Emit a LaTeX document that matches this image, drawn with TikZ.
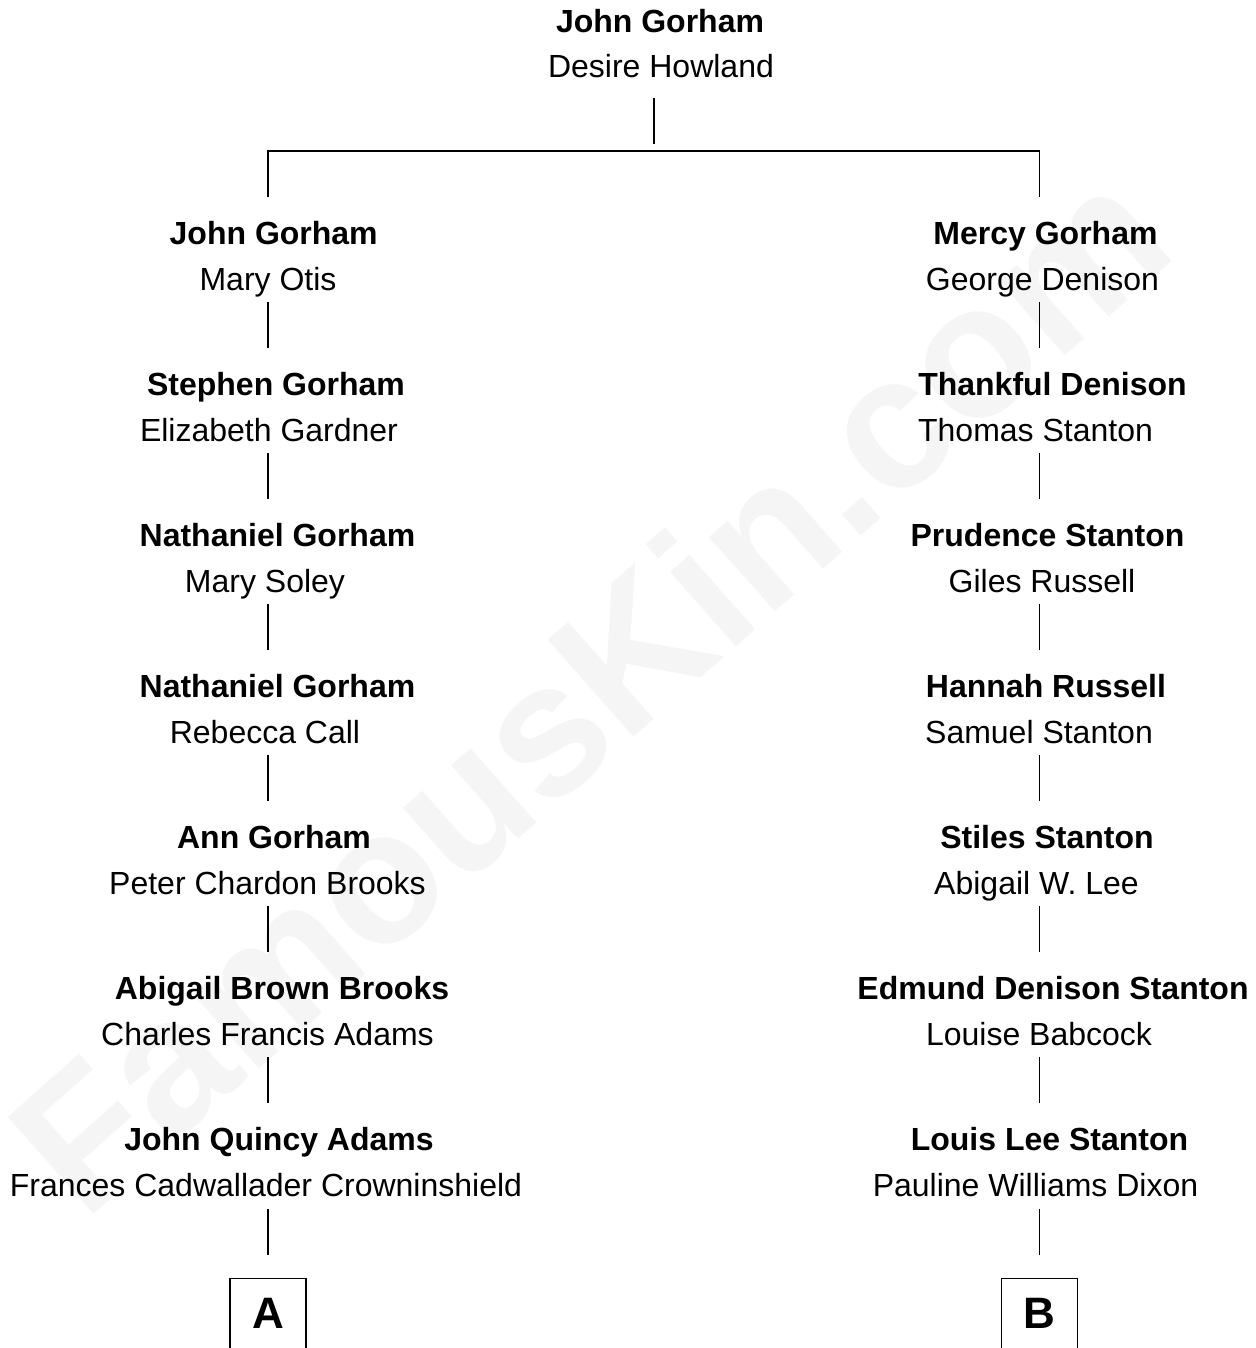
\documentclass[tikz,border=0pt]{standalone}
\usepackage{fontspec}
\setmainfont{Liberation Sans}
\usetikzlibrary{calc}
\begin{document}
\begin{tikzpicture}[x=1pt,y=-1pt,
  nm/.style={anchor=base, inner sep=0pt, font=\fontsize{32}{38}\selectfont\bfseries},
  sp/.style={anchor=base, inner sep=0pt, font=\fontsize{32}{38}\selectfont},
  link/.style={line width=1.3pt, draw=black},
  endbox/.style={draw, line width=1.3pt, minimum width=76pt, minimum height=140pt, anchor=north, inner sep=0pt},
  boxlabel/.style={anchor=base, inner sep=0pt, font=\fontsize{44}{44}\selectfont\bfseries},
  wmark/.style={inner sep=0pt, font=\fontsize{188}{188}\selectfont\bfseries, text=black!4}]
\useasboundingbox (0,0) rectangle (1255,1348);
\clip (0,0) rectangle (1255,1348);
\fill[white] (0,0) rectangle (1255,1348);
% watermark
\node[wmark, rotate=41.5] (wm) at (588,688) {FamousKin.com};
% columns
\coordinate (TC) at (654,0);
\coordinate (L) at (268,0);
\coordinate (R) at (1039.5,0);
% top couple
\node[nm] (t1) at (660,33) {John Gorham};
\node[sp] (t2) at (661,78) {Desire Howland};
% left line
\node[nm] (l0) at (273.7,244) {John Gorham};
\node[sp] (m0) at (268,290) {Mary Otis};
\node[nm] (l1) at (276,395) {Stephen Gorham};
\node[sp] (m1) at (269,441) {Elizabeth Gardner};
\node[nm] (l2) at (277.5,546) {Nathaniel Gorham};
\node[sp] (m2) at (265,592) {Mary Soley};
\node[nm] (l3) at (277.5,697) {Nathaniel Gorham};
\node[sp] (m3) at (265,743) {Rebecca Call};
\node[nm] (l4) at (274,848) {Ann Gorham};
\node[sp] (m4) at (267.5,894) {Peter Chardon Brooks};
\node[nm] (l5) at (282,999) {Abigail Brown Brooks};
\node[sp] (m5) at (267.5,1045) {Charles Francis Adams};
\node[nm] (l6) at (279,1150) {John Quincy Adams};
\node[sp] (m6) at (266,1196) {Frances Cadwallader Crowninshield};
% right line
\node[nm] (r0) at (1045.5,244) {Mercy Gorham};
\node[sp] (n0) at (1042.5,290) {George Denison};
\node[nm] (r1) at (1052.5,395) {Thankful Denison};
\node[sp] (n1) at (1035.5,441) {Thomas Stanton};
\node[nm] (r2) at (1047.5,546) {Prudence Stanton};
\node[sp] (n2) at (1042,592) {Giles Russell};
\node[nm] (r3) at (1046,697) {Hannah Russell};
\node[sp] (n3) at (1039,743) {Samuel Stanton};
\node[nm] (r4) at (1047,848) {Stiles Stanton};
\node[sp] (n4) at (1036.5,894) {Abigail W. Lee};
\node[nm] (r5) at (1053,999) {Edmund Denison Stanton};
\node[sp] (n5) at (1039,1045) {Louise Babcock};
\node[nm] (r6) at (1049.5,1150) {Louis Lee Stanton};
\node[sp] (n6) at (1035.5,1196) {Pauline Williams Dixon};
% end boxes
\node[endbox] (boxA) at (268,1278) {};
\node[boxlabel] (labA) at (268,1328) {A};
\node[endbox] (boxB) at (1039.5,1278) {};
\node[boxlabel] (labB) at (1039.5,1328) {B};
% connectors
\draw[link] ($(t2.base -| TC)+(0,20)$) -- ($(t2.base -| TC)+(0,66)$);
\draw[link] ($(l0.base -| L)+(0,-47)$) |- ($(r0.base -| R)+(0,-93)$) -- ($(r0.base -| R)+(0,-47)$);
\foreach \a/\b in {m0/l1,m1/l2,m2/l3,m3/l4,m4/l5,m5/l6}{
  \draw[link] ($(\a.base -| L)+(0,12)$) -- ($(\b.base -| L)+(0,-47)$);
}
\foreach \a/\b in {n0/r1,n1/r2,n2/r3,n3/r4,n4/r5,n5/r6}{
  \draw[link] ($(\a.base -| R)+(0,12)$) -- ($(\b.base -| R)+(0,-47)$);
}
\draw[link] ($(m6.base -| L)+(0,13)$) -- ($(boxA.north)+(0,-23)$);
\draw[link] ($(n6.base -| R)+(0,13)$) -- ($(boxB.north)+(0,-23)$);
\end{tikzpicture}
\end{document}
